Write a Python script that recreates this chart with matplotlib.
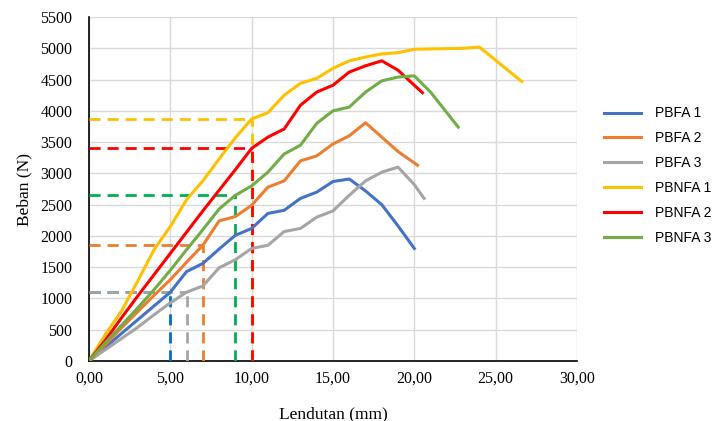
import matplotlib
matplotlib.use("Agg")
import matplotlib.pyplot as plt
from matplotlib.ticker import FuncFormatter

# data (deflection in mm, load in N)
pbfa1_x = [0, 1, 2, 3, 4, 5, 6, 7, 8, 9, 10, 11, 12, 13, 14, 15, 16, 17, 18, 19, 20]
pbfa1_y = [0, 220, 440, 660, 880, 1100, 1430, 1560, 1790, 2010, 2120, 2360, 2410, 2600, 2700, 2870, 2910, 2720, 2500, 2160, 1800]

pbfa2_x = [0, 1, 2, 3, 4, 5, 6, 7, 8, 9, 10, 11, 12, 13, 14, 15, 16, 17, 18, 19, 20.2]
pbfa2_y = [0, 260, 530, 790, 1050, 1300, 1580, 1850, 2240, 2310, 2490, 2780, 2880, 3200, 3280, 3470, 3600, 3810, 3580, 3350, 3130]

pbfa3_x = [0, 1, 2, 3, 4, 5, 6, 7, 8, 9, 10, 11, 12, 13, 14, 15, 16, 17, 18, 19, 20, 20.6]
pbfa3_y = [0, 180, 360, 540, 740, 930, 1100, 1200, 1490, 1620, 1800, 1850, 2070, 2120, 2300, 2400, 2650, 2880, 3020, 3100, 2820, 2600]

pbnfa1_x = [0, 1, 2, 3, 4, 5, 6, 7, 8, 9, 10, 11, 12, 13, 14, 15, 16, 17, 18, 19, 20, 21, 22, 23, 24, 26.6]
pbnfa1_y = [0, 420, 800, 1280, 1780, 2150, 2580, 2880, 3230, 3570, 3870, 3970, 4250, 4440, 4520, 4680, 4800, 4860, 4910, 4930, 4985, 4990, 4995, 5000, 5020, 4470]

pbnfa2_x = [0, 1, 2, 3, 4, 5, 6, 7, 8, 9, 10, 11, 12, 13, 14, 15, 16, 17, 18, 19, 20.5]
pbnfa2_y = [0, 330, 690, 1040, 1380, 1720, 2060, 2400, 2730, 3060, 3400, 3580, 3710, 4090, 4300, 4410, 4620, 4720, 4800, 4650, 4290]

pbnfa3_x = [0, 1, 2, 3, 4, 5, 6, 7, 8, 9, 10, 11, 12, 13, 14, 15, 16, 17, 18, 19, 20, 21, 22.7]
pbnfa3_y = [0, 290, 570, 850, 1140, 1450, 1780, 2100, 2430, 2650, 2800, 3020, 3310, 3450, 3800, 4000, 4060, 4300, 4480, 4540, 4560, 4300, 3740]

labels = ["PBFA 1", "PBFA 2", "PBFA 3", "PBNFA 1", "PBNFA 2", "PBNFA 3"]
colors = ["#4472C4", "#ED7D31", "#A5A5A5", "#FFC000", "#FF0000", "#70AD47"]

# reference points marked with dashed guides
guide_x = [5, 7, 6, 10, 10, 9]
guide_y = [1100, 1850, 1100, 3870, 3400, 2650]
guide_colors = ["#0070C0", "#ED7D31", "#A5A5A5", "#FFC000", "#FF0000", "#00B050"]

fig = plt.figure(figsize=(7.14, 4.21), dpi=100)
ax = fig.add_axes([0.1246, 0.1425, 0.6835, 0.817])

series = [(pbfa1_x, pbfa1_y), (pbfa2_x, pbfa2_y), (pbfa3_x, pbfa3_y),
          (pbnfa1_x, pbnfa1_y), (pbnfa2_x, pbnfa2_y), (pbnfa3_x, pbnfa3_y)]

for gx, gy, gc in zip(guide_x, guide_y, guide_colors):
    ax.plot([0, gx], [gy, gy], color=gc, lw=2, linestyle=(0, (4, 2.5)), zorder=3)
    ax.plot([gx, gx], [0, gy], color=gc, lw=2, linestyle=(0, (4, 2.5)), zorder=3)

for (x, y), lab, c in zip(series, labels, colors):
    ax.plot(x, y, color=c, lw=2.2, label=lab, zorder=4)

ax.set_xlim(0, 30)
ax.set_ylim(0, 5500)
ax.set_xticks(range(0, 31, 5))
ax.set_yticks(range(0, 5501, 500))
ax.xaxis.set_major_formatter(FuncFormatter(lambda v, p: f"{v:.2f}".replace(".", ",")))
ax.grid(True, color="#D9D9D9", lw=1)
ax.set_axisbelow(True)
for s in ["top", "right"]:
    ax.spines[s].set_visible(False)
ax.spines["left"].set_color("black")
ax.spines["bottom"].set_color("black")
ax.spines["left"].set_linewidth(1.2)
ax.spines["bottom"].set_linewidth(1.2)
ax.tick_params(axis="x", length=0, pad=7)
ax.tick_params(axis="y", length=0, pad=12)
for t in ax.get_xticklabels() + ax.get_yticklabels():
    t.set_fontfamily("Liberation Serif")
    t.set_fontsize(11.5)

ax.set_xlabel("Lendutan (mm)", fontfamily="Liberation Serif", fontsize=12.5, labelpad=14)
ax.set_ylabel("Beban (N)", fontfamily="Liberation Serif", fontsize=12.5, labelpad=6)

leg = ax.legend(loc="upper left", bbox_to_anchor=(1.055, 0.74), frameon=False,
                prop={"family": "Liberation Sans", "size": 10}, handlelength=2.7,
                labelspacing=0.78, handletextpad=1.0, borderaxespad=0, borderpad=0)

fig.savefig("out.png", dpi=100)
